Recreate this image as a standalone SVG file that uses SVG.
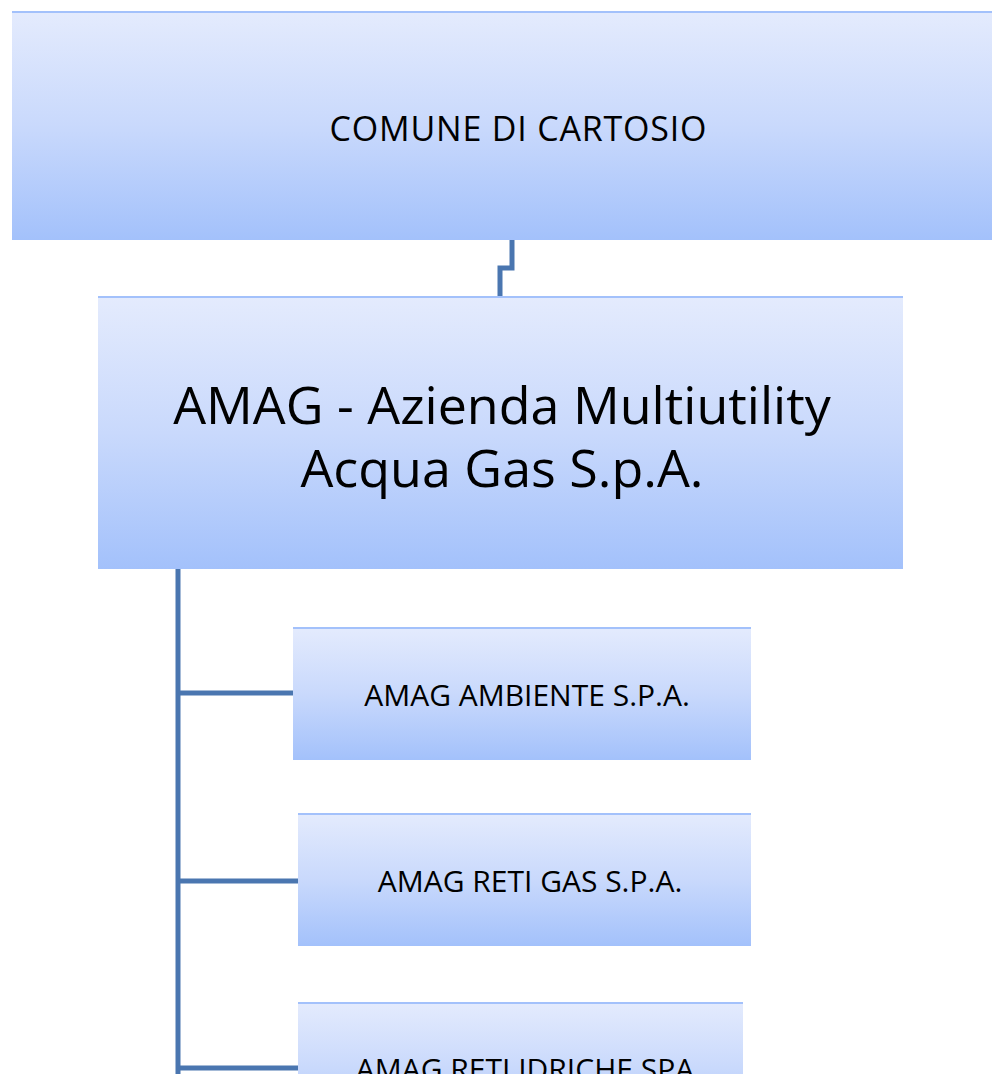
<svg xmlns="http://www.w3.org/2000/svg" width="992" height="1074" viewBox="0 0 992 1074">
<defs>
<linearGradient id="g" x1="0" y1="0" x2="0" y2="1">
<stop offset="0" stop-color="#e4ebfd"/>
<stop offset="0.5" stop-color="#c9d9fc"/>
<stop offset="1" stop-color="#a3c1fb"/>
</linearGradient>
<style>
.box{fill:url(#g);}
.edge{stroke:#a3c1fb;stroke-width:2;}
.conn{fill:none;stroke:#4a76b0;stroke-width:5;}
.t{font-family:"Open Sans","DejaVu Sans",sans-serif;fill:#000;text-anchor:middle;}
</style>
</defs>
<rect width="992" height="1074" fill="#fff"/>
<g id="connectors">
<path class="conn" d="M512,240 V268 H500 V296" stroke="#3f6a9f"/>
<path class="conn" d="M178,569 V1074"/>
<path class="conn" d="M176,693 H293"/>
<path class="conn" d="M176,881 H298"/>
<path class="conn" d="M176,1068 H298"/>
</g>
<g id="comune">
<rect class="box" x="12" y="11" width="980" height="229"/>
<line class="edge" x1="12" y1="12" x2="992" y2="12"/>
<text class="t" x="518" y="141" font-size="34" textLength="377">COMUNE DI CARTOSIO</text>
</g>
<g id="amag">
<rect class="box" x="98" y="296" width="805" height="273"/>
<line class="edge" x1="98" y1="297" x2="903" y2="297"/>
<text class="t" x="502" y="424" font-size="52">AMAG - Azienda Multiutility</text>
<text class="t" x="502" y="487" font-size="52">Acqua Gas S.p.A.</text>
</g>
<g id="ambiente">
<rect class="box" x="293" y="627" width="458" height="133"/>
<line class="edge" x1="293" y1="628" x2="751" y2="628"/>
<text class="t" x="527" y="706" font-size="30">AMAG AMBIENTE S.P.A.</text>
</g>
<g id="retigas">
<rect class="box" x="298" y="813" width="453" height="133"/>
<line class="edge" x1="298" y1="814" x2="751" y2="814"/>
<text class="t" x="530" y="892" font-size="30">AMAG RETI GAS S.P.A.</text>
</g>
<g id="retiidriche">
<rect class="box" x="298" y="1002" width="445" height="133"/>
<line class="edge" x1="298" y1="1003" x2="743" y2="1003"/>
<text class="t" x="525" y="1080" font-size="30">AMAG RETI IDRICHE SPA</text>
</g>
</svg>
